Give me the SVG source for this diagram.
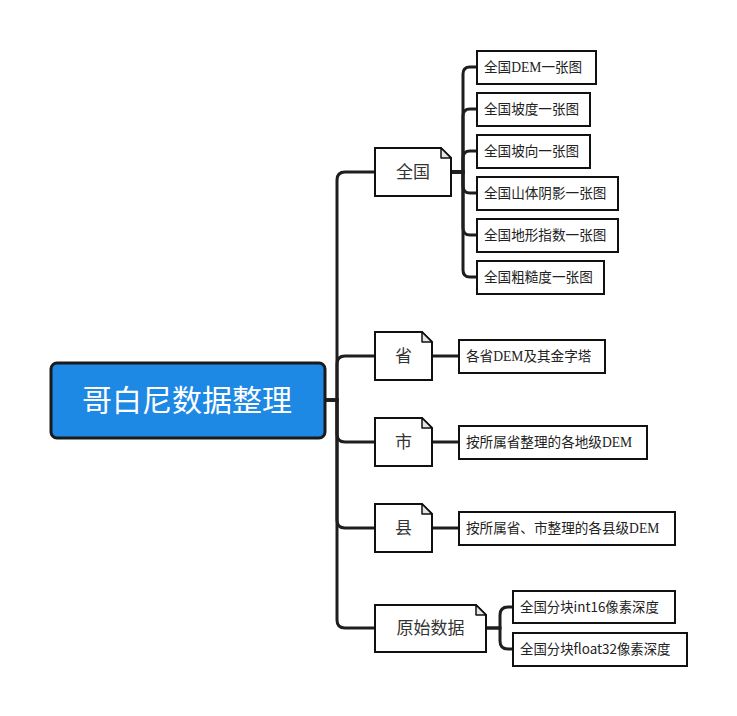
<svg xmlns="http://www.w3.org/2000/svg" width="737" height="716" viewBox="0 0 737 716">
<style>
.c{fill:none;stroke:#1e1e1e;stroke-width:3;stroke-linecap:round}
.n1{fill:#fff;stroke:#111;stroke-width:2}
.fold{fill:#e6e6e6;stroke:#111;stroke-width:1.5;stroke-linejoin:round}
.n2{fill:#fff;stroke:#111;stroke-width:2}
.t1{font-family:"Noto Sans CJK SC",sans-serif;font-size:17px;fill:#333;text-anchor:middle}
.t2{font-family:"Liberation Serif","Noto Sans CJK SC",serif;font-size:13.6px;fill:#222}
.t2s{font-family:"Noto Sans CJK SC",sans-serif;font-size:13.4px;fill:#222}
</style>
<rect width="737" height="716" fill="#fff"/>
<g id="connectors">
<path class="c" d="M325,400 H337 V180 Q337,172 345,172 H375"/>
<path class="c" d="M325,400 H337 V364 Q337,356 345,356 H375"/>
<path class="c" d="M325,400 H337 V434 Q337,442 345,442 H375"/>
<path class="c" d="M325,400 H337 V520 Q337,528 345,528 H375"/>
<path class="c" d="M325,400 H337 V620 Q337,628 345,628 H375"/>
<path class="c" d="M451,172 H463 V74 Q463,67 470,67 H477"/>
<path class="c" d="M451,172 H463 V116 Q463,109 470,109 H477"/>
<path class="c" d="M451,172 H463 V158 Q463,151 470,151 H477"/>
<path class="c" d="M451,172 H463 V186 Q463,193 470,193 H477"/>
<path class="c" d="M451,172 H463 V228 Q463,235 470,235 H477"/>
<path class="c" d="M451,172 H463 V270 Q463,277 470,277 H477"/>
<path class="c" d="M432,356 H459"/>
<path class="c" d="M432,442 H459"/>
<path class="c" d="M432,528 H459"/>
<path class="c" d="M486,628 H500 V615 Q500,607 508,607 H513"/>
<path class="c" d="M486,628 H500 V641 Q500,649 508,649 H513"/>
</g>
<g id="root">
<rect x="51" y="363" width="274" height="75" rx="6" fill="#1e88e5" stroke="#1a1a1a" stroke-width="3"/>
<text x="187" y="411" font-family="Noto Sans CJK SC,sans-serif" font-size="30" fill="#fff" text-anchor="middle">哥白尼数据整理</text>
</g>
<g id="n-quanguo">
<path class="n1" d="M375,148 H441 L451,158 V196 H375 Z"/>
<path class="fold" d="M441,148 V158 H451 Z"/>
<text class="t1" x="413" y="178">全国</text>
</g>
<g id="n-sheng">
<path class="n1" d="M375,332 H422 L432,342 V380 H375 Z"/>
<path class="fold" d="M422,332 V342 H432 Z"/>
<text class="t1" x="403.5" y="362">省</text>
</g>
<g id="n-shi">
<path class="n1" d="M375,418 H422 L432,428 V466 H375 Z"/>
<path class="fold" d="M422,418 V428 H432 Z"/>
<text class="t1" x="403.5" y="448">市</text>
</g>
<g id="n-xian">
<path class="n1" d="M375,504 H422 L432,514 V552 H375 Z"/>
<path class="fold" d="M422,504 V514 H432 Z"/>
<text class="t1" x="403.5" y="534">县</text>
</g>
<g id="n-yuanshi">
<path class="n1" d="M375,605 H476 L486,615 V652 H375 Z"/>
<path class="fold" d="M476,605 V615 H486 Z"/>
<text class="t1" x="430.5" y="634">原始数据</text>
</g>
<g id="n-dem">
<rect class="n2" x="477" y="51" width="119" height="33"/>
<text class="t2" x="484" y="72">全国DEM一张图</text>
</g>
<g id="n-podu">
<rect class="n2" x="477" y="93" width="113" height="33"/>
<text class="t2" x="484" y="114">全国坡度一张图</text>
</g>
<g id="n-poxiang">
<rect class="n2" x="477" y="135" width="113" height="33"/>
<text class="t2" x="484" y="156">全国坡向一张图</text>
</g>
<g id="n-shanti">
<rect class="n2" x="477" y="177" width="141" height="33"/>
<text class="t2" x="484" y="198">全国山体阴影一张图</text>
</g>
<g id="n-dixing">
<rect class="n2" x="477" y="219" width="141" height="33"/>
<text class="t2" x="484" y="240">全国地形指数一张图</text>
</g>
<g id="n-cucao">
<rect class="n2" x="477" y="261" width="127" height="33"/>
<text class="t2" x="484" y="282">全国粗糙度一张图</text>
</g>
<g id="n-sheng-dem">
<rect class="n2" x="459" y="340" width="146" height="33"/>
<text class="t2" x="466" y="361">各省DEM及其金字塔</text>
</g>
<g id="n-shi-dem">
<rect class="n2" x="459" y="426" width="188" height="33"/>
<text class="t2" x="466" y="447">按所属省整理的各地级DEM</text>
</g>
<g id="n-xian-dem">
<rect class="n2" x="459" y="512" width="216" height="33"/>
<text class="t2" x="466" y="533">按所属省、市整理的各县级DEM</text>
</g>
<g id="n-int16">
<rect class="n2" x="513" y="591" width="162" height="32"/>
<text class="t2s" x="520" y="612">全国分块int16像素深度</text>
</g>
<g id="n-float32">
<rect class="n2" x="513" y="633" width="174" height="33"/>
<text class="t2s" x="520" y="654">全国分块float32像素深度</text>
</g>
</svg>
